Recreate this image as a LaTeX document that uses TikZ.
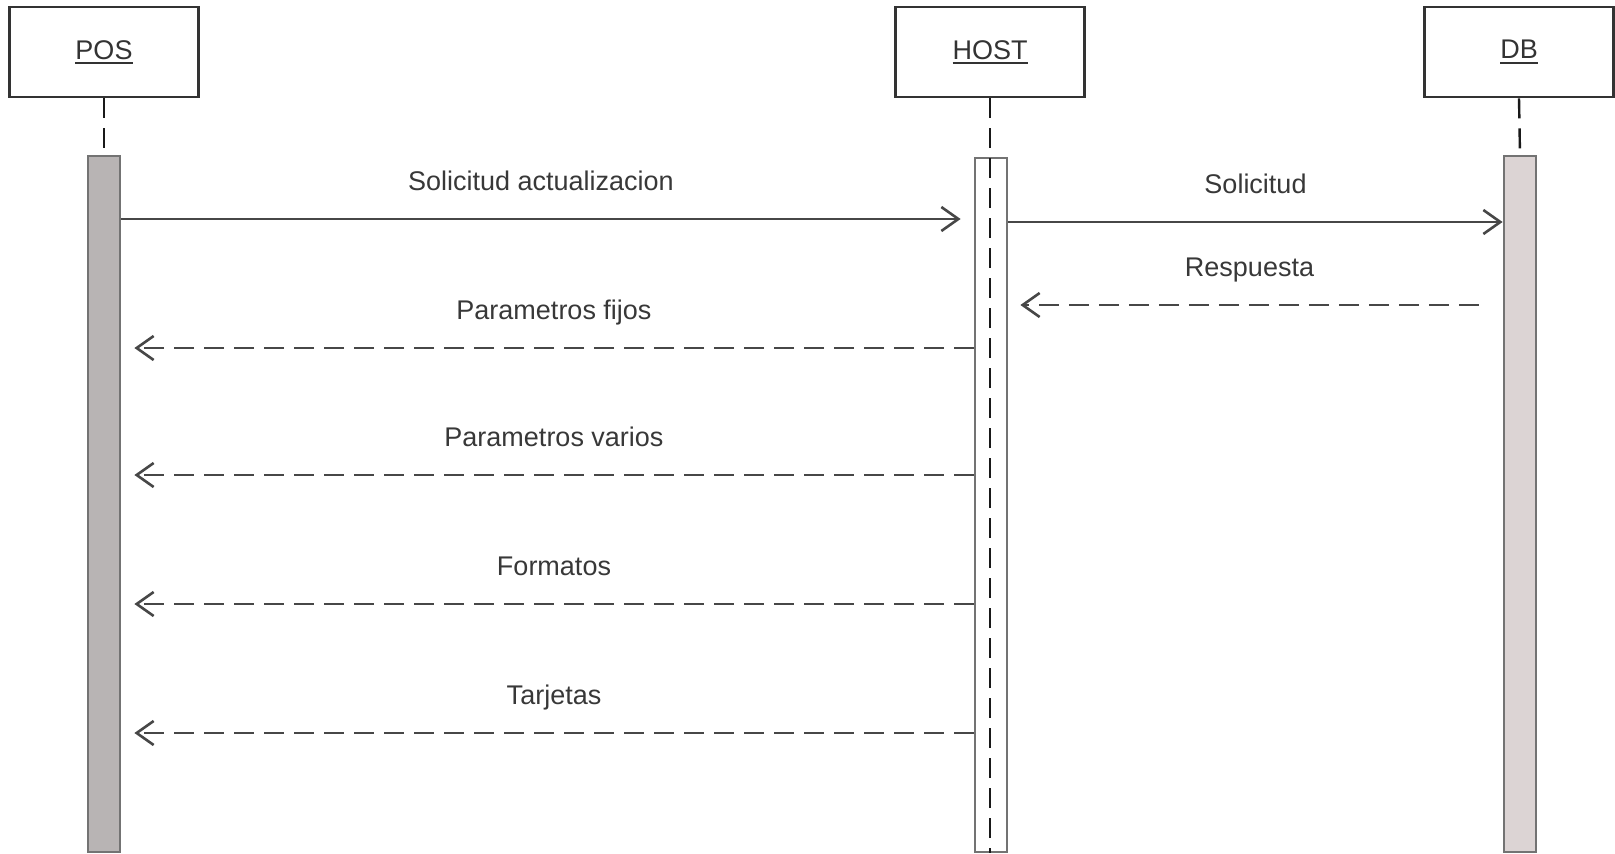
\documentclass[tikz,border=0pt]{standalone}
\usepackage{fontspec}
\setmainfont{Liberation Sans}
\usetikzlibrary{arrows.meta}
\definecolor{posgray}{RGB}{184,180,180}
\definecolor{dbpink}{RGB}{220,212,212}
\newcommand\hdul[1]{\setbox0\hbox{#1}\rlap{\copy0}\rule[-4.8pt]{\wd0}{2pt}}
\tikzstyle{head}=[draw=black!80, line width=2.8pt, minimum width=189pt, minimum height=90pt, inner sep=0pt, text=black!80, font=\fontsize{27}{32}\selectfont]
\tikzstyle{bar}=[draw=black!55, line width=2.8pt, minimum width=32pt, inner sep=0pt]
\tikzstyle{life}=[draw=black!90, line width=2.4pt, dash pattern=on 20pt off 10pt]
\tikzstyle{msg}=[draw=black!72, line width=2.6pt, -{Straight Barb[length=17pt,width=24pt]}]
\tikzstyle{ret}=[msg, dash pattern=on 20pt off 10pt]
\tikzstyle{lbl}=[midway, anchor=base, yshift=29pt, text=black!78, font=\fontsize{27}{32}\selectfont]

\begin{document}
\begin{tikzpicture}[x=1pt, y=-1pt]
\useasboundingbox (0,0) rectangle (1615,854);

\node[head] (pos) at (104,52) {\hdul{POS}};
\node[head] (host) at (990,52) {\hdul{HOST}};
\node[head] (db) at (1519,52) {\hdul{DB}};

\node[bar, fill=posgray, minimum height=696pt] (posbar) at (104,504) {};
\node[bar, fill=white, minimum height=694pt] (hostbar) at (991,505) {};
\node[bar, fill=dbpink, minimum height=696pt] (dbbar) at (1520,504) {};

\draw[life] (pos.south) -- (posbar.north);
\draw[life] (host.south) -- (host.south |- hostbar.south);
\draw[life] (db.south) -- (dbbar.north);

\draw[msg] (posbar.east |- 0,219) -- ([xshift=-13pt]hostbar.west |- 0,219) node[lbl] {Solicitud actualizacion};
\draw[msg] (hostbar.east |- 0,222) -- (dbbar.west |- 0,222) node[lbl] {Solicitud};
\draw[ret] ([xshift=-24pt]dbbar.west |- 0,305) -- ([xshift=12pt]hostbar.east |- 0,305) node[lbl] {Respuesta};
\draw[ret] (hostbar.west |- 0,348) -- ([xshift=13pt]posbar.east |- 0,348) node[lbl] {Parametros fijos};
\draw[ret] (hostbar.west |- 0,475) -- ([xshift=13pt]posbar.east |- 0,475) node[lbl] {Parametros varios};
\draw[ret] (hostbar.west |- 0,604) -- ([xshift=13pt]posbar.east |- 0,604) node[lbl] {Formatos};
\draw[ret] (hostbar.west |- 0,733) -- ([xshift=13pt]posbar.east |- 0,733) node[lbl] {Tarjetas};

\end{tikzpicture}
\end{document}
